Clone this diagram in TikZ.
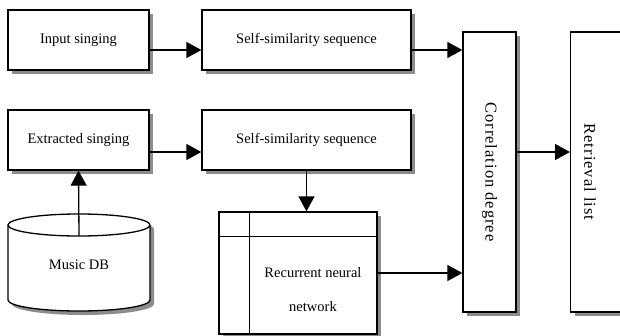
\documentclass[tikz,border=0pt]{standalone}
\usepackage{fontspec}
\setmainfont{Liberation Serif}
\usetikzlibrary{arrows.meta,calc,positioning,shadows}
\tikzstyle{shade}=[drop shadow={shadow xshift=4pt,shadow yshift=-4pt,fill=black!45,opacity=1}]
\tikzstyle{na}=[draw,line width=1.3pt,fill=white,text centered,font=\fontsize{14.5}{17}\selectfont,shade]
\tikzstyle{nb}=[na,minimum width=141pt,minimum height=60pt]
\tikzstyle{nc}=[na,minimum width=209pt,minimum height=60pt]
\tikzstyle{nv}=[na,minimum width=53pt,minimum height=280pt]
\tikzstyle{lbl}=[font=\fontsize{14.5}{17}\selectfont,align=center]
\newcommand{\vtext}[1]{\rotatebox{-90}{\fontsize{16.5}{19}\selectfont\addfontfeature{LetterSpace=6}#1}}

\begin{document}
\begin{tikzpicture}[
      x=1pt,y=1pt,
      >={Triangle[length=15pt,width=16pt]},
      line width=1.3pt
    ]
     \useasboundingbox (0,0) rectangle (620,335);

     \node [nb] (n1) at (78.5,295) {Input singing};
     \node [nc] (n2) [node distance=228pt,right of=n1] {Self-similarity sequence};
     \node [nb] (n3) [node distance=100pt,below of=n1] {Extracted singing};
     \node [nc] (n4) [node distance=228pt,right of=n3] {Self-similarity sequence};
     \node [nv] (n5) at (489.5,163) {\vtext{Correlation degree}};
     \node [nv,minimum width=80pt,anchor=west] (n6) at (570,163) {};
     \node [lbl] (n6t) at (590,163) {\vtext{Retrieval list}};

     % recurrent network box
     \node [na,minimum width=158pt,minimum height=122pt] (n7) at (298,62) {};
     \draw ([xshift=31pt]n7.north west) -- ([xshift=31pt]n7.south west);
     \draw ([yshift=-25pt]n7.north west) -- ([yshift=-25pt]n7.north east);
     \node [lbl] (n7t) at (313,45) {Recurrent neural\\[17pt]network};

     % music database
     \draw [fill=white,shade] (8,110) -- (8,35) arc[start angle=180,end angle=360,x radius=71,y radius=11]
        -- (150,110) arc[start angle=0,end angle=180,x radius=71,y radius=11] -- cycle;
     \draw (8,110) arc[start angle=180,end angle=360,x radius=71,y radius=11];
     \node [lbl] (n8) at (79,70) {Music DB};
     \coordinate (db) at (79,99);

      \draw[->] ([yshift=-10pt]n1.east) -- ([yshift=-10pt]n2.west);
      \draw[->] ([yshift=-10pt]n2.east) -- ($(n5.west |- n2.east)+(0,-10)$);
      \draw[->] ([yshift=-12pt]n3.east) -- ([yshift=-12pt]n4.west);
      \draw[->] (n4.south) -- (n4.south |- n7.north);
      \draw[->] (n7.east) -- (n5.west |- n7.east);
      \draw[->] ($(n5.east)+(0,20)$) -- ($(n6.west)+(0,20)$);
      \draw[->] (db) -- (n3.south);
    \end{tikzpicture}
\end{document}
